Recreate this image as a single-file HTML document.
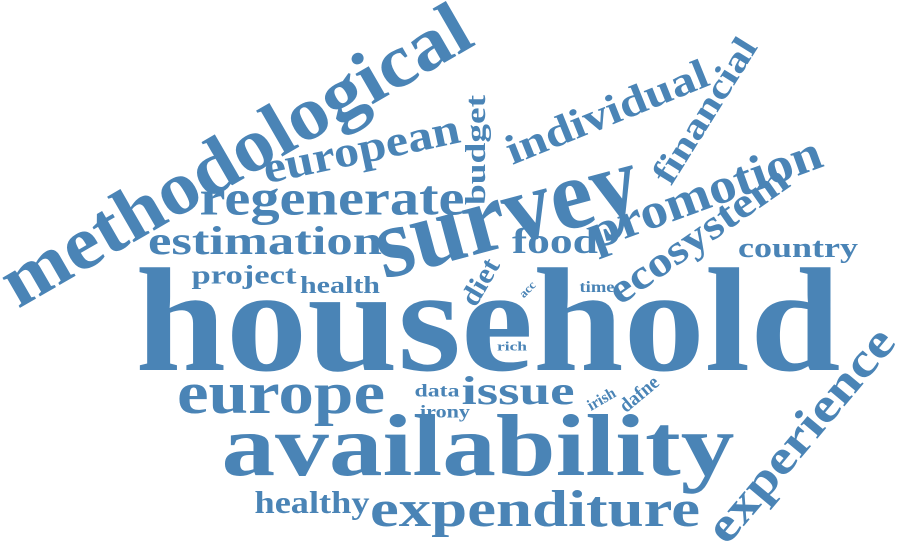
<!DOCTYPE html>
<html>
<head>
<meta charset="utf-8">
<style>
html,body{margin:0;padding:0;background:#fff;}
svg{display:block;}
text{font-family:"Liberation Serif",serif;font-weight:bold;fill:#4a84b6;}
</style>
</head>
<body>
<svg width="900" height="543" viewBox="0 0 900 543">
<g id="words"></g>
</svg>
<script>
// word, centerX, centerY, fontSize, rotation(deg), textLength
const words = ["household","availability","survey","methodological","european","regenerate","estimation","project","health","budget","individual","financial","promotion","food","ecosystem","country","diet","acc","time","rich","europe","data","issue","irish","dafne","irony","experience","healthy","expenditure"];
const cx = [488,478,508,238,362,332,265,244,340,478,608,707,706,555,700,798,482,528,597,512,281,437,518,602,640,445,803,312,535];
const cy = [333,453,220,160,152,202,244,277,287,150,115,112,196,244,237,250,283,290,288,347,398,392,394,400,395,413,437,505,513];
const sizes = [148,88,100,76,44,50,40,26,24,28,42,36,50,36,42,28,28,12,16,13,60,18,40,16,20,18,48,32,52];
const rots = [0,0,-15,-30,-12,0,0,0,0,-90,-22,-58,-20,0,-35,0,-60,-45,0,0,0,0,0,-30,-40,0,-50,0,0];
const lens = [705,513,270,530,200,265,234,105,80,110,215,165,245,86,210,120,50,18,35,30,208,45,113,30,45,50,265,115,330];
const g = document.getElementById('words');
const NS = "http://www.w3.org/2000/svg";
for (let i = 0; i < words.length; i++) {
  const t = document.createElementNS(NS, 'text');
  
  
  t.setAttribute('x', cx[i]);
  t.setAttribute('y', cy[i] + sizes[i] * 0.25);
  t.setAttribute('font-size', sizes[i]);
  t.setAttribute('text-anchor', 'middle');
  t.setAttribute('textLength', lens[i]);
  t.setAttribute('lengthAdjust', 'spacingAndGlyphs');
  if (rots[i]) t.setAttribute('transform', 'rotate(' + rots[i] + ' ' + cx[i] + ' ' + cy[i] + ')');
  t.textContent = words[i];
  g.appendChild(t);
}
</script>
</body>
</html>
